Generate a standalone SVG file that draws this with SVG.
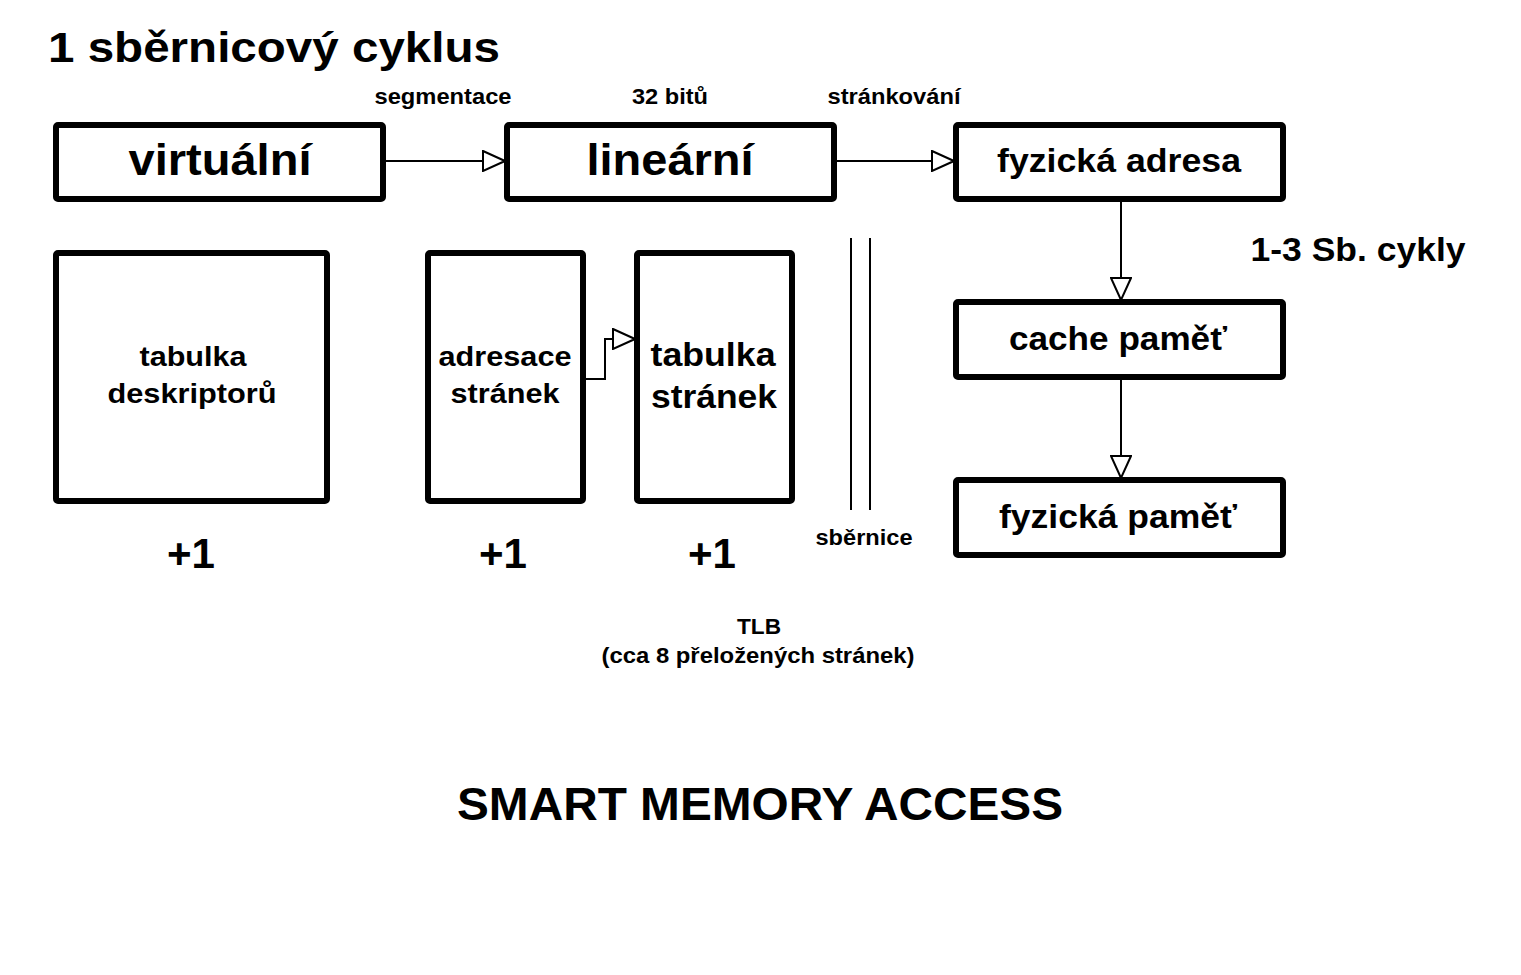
<svg xmlns="http://www.w3.org/2000/svg" width="1521" height="975" viewBox="0 0 1521 975">
<style>
text{font-family:"Liberation Sans",Arial,sans-serif;font-weight:bold;fill:#000;text-anchor:middle}
.box{fill:#fff;stroke:#000;stroke-width:6}
.ln{fill:none;stroke:#000;stroke-width:2}
</style>
<defs>
<marker id="ah" viewBox="0 0 24 22" refX="23" refY="11" markerWidth="24" markerHeight="22" markerUnits="userSpaceOnUse" orient="auto">
<path d="M1,1 L23,11 L1,21 Z" fill="#fff" stroke="#000" stroke-width="2"/>
</marker>
</defs>
<rect width="1521" height="975" fill="#fff"/>
<text x="274" y="62" font-size="43" textLength="452" lengthAdjust="spacingAndGlyphs">1 sběrnicový cyklus</text>
<text x="443" y="104" font-size="22" textLength="137" lengthAdjust="spacingAndGlyphs">segmentace</text>
<text x="670" y="104" font-size="22" textLength="76" lengthAdjust="spacingAndGlyphs">32 bitů</text>
<text x="894" y="104" font-size="22" textLength="133" lengthAdjust="spacingAndGlyphs">stránkování</text>
<g id="connectors">
<line class="ln" x1="386" y1="161" x2="505" y2="161" marker-end="url(#ah)"/>
<line class="ln" x1="837" y1="161" x2="954" y2="161" marker-end="url(#ah)"/>
<line class="ln" x1="1121" y1="202" x2="1121" y2="300" marker-end="url(#ah)"/>
<line class="ln" x1="1121" y1="380" x2="1121" y2="478" marker-end="url(#ah)"/>
<polyline class="ln" points="586,379 605,379 605,339 635,339" marker-end="url(#ah)"/>
</g>
<g id="n-virtualni"><rect class="box" x="56" y="125" width="327" height="74" rx="2"/><text x="220" y="175" font-size="44" textLength="183" lengthAdjust="spacingAndGlyphs">virtuální</text></g>
<g id="n-linearni"><rect class="box" x="507" y="125" width="327" height="74" rx="2"/><text x="670" y="175" font-size="44" textLength="167" lengthAdjust="spacingAndGlyphs">lineární</text></g>
<g id="n-fyzadresa"><rect class="box" x="956" y="125" width="327" height="74" rx="2"/><text x="1119" y="172" font-size="33" textLength="244" lengthAdjust="spacingAndGlyphs">fyzická adresa</text></g>
<g id="n-deskriptory"><rect class="box" x="56" y="253" width="271" height="248" rx="2"/><text x="193" y="366" font-size="28" textLength="107" lengthAdjust="spacingAndGlyphs">tabulka</text><text x="192" y="403" font-size="28" textLength="169" lengthAdjust="spacingAndGlyphs">deskriptorů</text></g>
<g id="n-adresace"><rect class="box" x="428" y="253" width="155" height="248" rx="2"/><text x="505" y="366" font-size="28" textLength="133" lengthAdjust="spacingAndGlyphs">adresace</text><text x="505" y="403" font-size="28" textLength="109" lengthAdjust="spacingAndGlyphs">stránek</text></g>
<g id="n-tabstranek"><rect class="box" x="637" y="253" width="155" height="248" rx="2"/><text x="713" y="366" font-size="34" textLength="125" lengthAdjust="spacingAndGlyphs">tabulka</text><text x="714" y="408" font-size="34" textLength="126" lengthAdjust="spacingAndGlyphs">stránek</text></g>
<g id="n-cache"><rect class="box" x="956" y="302" width="327" height="75" rx="2"/><text x="1118" y="350" font-size="33" textLength="218" lengthAdjust="spacingAndGlyphs">cache paměť</text></g>
<g id="n-fyzpamet"><rect class="box" x="956" y="480" width="327" height="75" rx="2"/><text x="1118" y="528" font-size="33" textLength="238" lengthAdjust="spacingAndGlyphs">fyzická paměť</text></g>
<g id="bus">
<line x1="851" y1="238" x2="851" y2="510" stroke="#000" stroke-width="2"/>
<line x1="870" y1="238" x2="870" y2="510" stroke="#000" stroke-width="2"/>
<text x="864" y="545" font-size="22" textLength="97" lengthAdjust="spacingAndGlyphs">sběrnice</text>
</g>
<text x="1358" y="261" font-size="33" textLength="215" lengthAdjust="spacingAndGlyphs">1-3 Sb. cykly</text>
<text x="191" y="568" font-size="43" textLength="48" lengthAdjust="spacingAndGlyphs">+1</text>
<text x="503" y="568" font-size="43" textLength="48" lengthAdjust="spacingAndGlyphs">+1</text>
<text x="712" y="568" font-size="43" textLength="48" lengthAdjust="spacingAndGlyphs">+1</text>
<text x="759" y="634" font-size="22" textLength="44" lengthAdjust="spacingAndGlyphs">TLB</text>
<text x="758" y="663" font-size="22" textLength="313" lengthAdjust="spacingAndGlyphs">(cca 8 přeložených stránek)</text>
<text x="760" y="820" font-size="47" textLength="606" lengthAdjust="spacingAndGlyphs">SMART MEMORY ACCESS</text>
</svg>
